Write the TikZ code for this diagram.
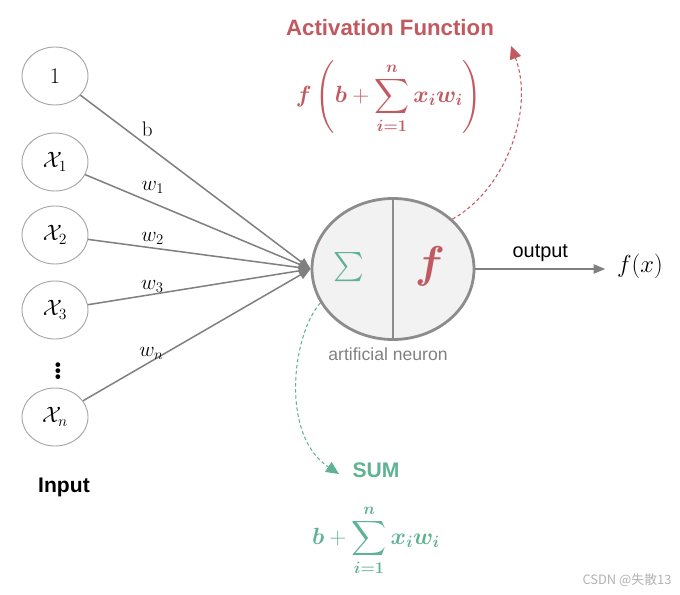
\RequirePackage{fix-cm}
\documentclass[tikz,border=0pt]{standalone}
\usepackage{amsmath,bm}
\usepackage{fontspec}
\setsansfont{Liberation Sans}
\newfontfamily\cjkfont{Noto Sans CJK SC}
\usetikzlibrary{arrows.meta,positioning,shapes.geometric}
\definecolor{actred}{RGB}{193,90,96}
\definecolor{sumgreen}{RGB}{96,178,148}
\definecolor{linegray}{RGB}{128,128,128}
\definecolor{neurongray}{RGB}{140,140,140}
\definecolor{neuronfill}{RGB}{242,242,242}
\begin{document}
\begin{tikzpicture}
	[x=0.03cm, y=-0.03cm,
	every node/.style={inner sep=0pt},
	input/.style={ellipse, draw=gray!70, line width=0.8pt,
		minimum width=1.98cm, minimum height=1.74cm,
		font=\fontsize{19}{19}\selectfont},
	weight/.style={font=\fontsize{18}{18}\selectfont},
	link/.style={draw=linegray, line width=1.3pt,
		-{Triangle[length=10pt,width=8pt]}},
	neuron/.style={ellipse, draw=neurongray, fill=neuronfill, line width=2.4pt,
		minimum width=4.86cm, minimum height=4.23cm},
	sanstext/.style={font=\sffamily\fontsize{17}{17}\selectfont},
	headtext/.style={font=\sffamily\bfseries\fontsize{18}{18}\selectfont},
	formula/.style={font=\fontsize{20}{24}\selectfont},
	dashlink/.style={dash pattern=on 3pt off 2.2pt, line width=0.9pt,
		-{Triangle[length=11pt,width=10pt]}}]
	\useasboundingbox (0,0) rectangle (680,594);

	% inputs
	\node[input] (one) at (55,76) {$1$};
	\node[input] (x1) at (55,162) {$\mathcal{X}_1$};
	\node[input] (x2) at (55,235) {$\mathcal{X}_2$};
	\node[input] (x3) at (55,310) {$\mathcal{X}_3$};
	\node[font=\fontsize{28}{28}\selectfont] (dots) at (58,368) {$\bm{\vdots}$};
	\node[input] (xn) at (55,417) {$\mathcal{X}_n$};
	\node[headtext] (inputtext) at (64,487) {Input};

	% neuron
	\node[neuron] (neuron) at (393,269) {};
	\draw[draw=neurongray, line width=2.4pt] (neuron.north) -- (neuron.south);
	\node[text=sumgreen, font=\fontsize{38}{38}\selectfont] (sigma) at (349,267) {$\textstyle\sum$};
	\node[text=actred, font=\fontsize{38}{38}\selectfont] (fsym) at (430,266) {$\bm{f}$};
	\node[font=\sffamily\fontsize{15}{15}\selectfont, text=gray] (neurontext)
		at (388,354) {artificial neuron};

	% weighted links
	\draw[link] (one) -- node[weight, pos=0.29, above=7pt] {b} (neuron.west);
	\draw[link] (x1) -- node[weight, pos=0.3, above=7pt] {$w_1$} (neuron.west);
	\draw[link] (x2) -- node[weight, pos=0.29, above=2pt] {$w_2$} (neuron.west);
	\draw[link] (x3) -- node[weight, pos=0.29, above=1pt] {$w_3$} (neuron.west);
	\draw[link] (xn) -- node[weight, pos=0.3, above=1pt] {$w_n$} (neuron.west);

	% output
	\node[font=\fontsize{21}{21}\selectfont] (fx) at (640,266) {$f(x)$};
	\draw[link] (neuron.east) -- node[sanstext, above=6pt] {output}
		([xshift=-10pt]neuron.east -| fx.west);

	% activation function
	\node[headtext, text=actred, font=\sffamily\bfseries\fontsize{19}{19}\selectfont]
		(acttext) at (390,28) {Activation Function};
	\node[formula, text=actred] (actformula) at (389,97)
		{$\displaystyle \bm{f}\left(\bm{b}+\sum_{\bm{i=1}}^{\bm{n}}\bm{x_i w_i}\right)$};
	\coordinate (actend) at (511,46);
	\draw[dashlink, draw=actred]
		(neuron.40) .. controls (505,190) and (535,110) .. (actend);

	% sum
	\node[headtext, text=sumgreen] (sumtext) at (376,470) {SUM};
	\node[formula, text=sumgreen] (sumformula) at (376,540)
		{$\displaystyle \bm{b}+\sum_{\bm{i=1}}^{\bm{n}}\bm{x_i w_i}$};
	\coordinate (sumend) at (339,474);
	\draw[dashlink, draw=sumgreen]
		(neuron.205) .. controls (292,335) and (280,435) .. (sumend);

	\node[font=\cjkfont\fontsize{11}{11}\selectfont, text=gray!60] (mark)
		at (627,580) {CSDN @失散13};
\end{tikzpicture}
\end{document}
